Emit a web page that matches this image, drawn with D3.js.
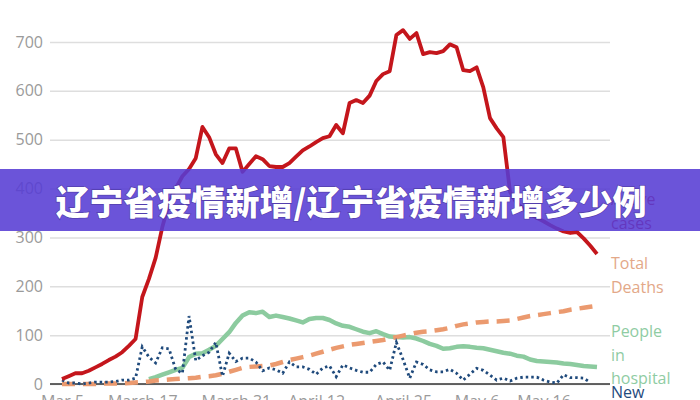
<!DOCTYPE html>
<html><head><meta charset="utf-8">
<script src="https://cdn.jsdelivr.net/npm/d3@7/dist/d3.min.js"></script>
<style>
html,body{margin:0;padding:0;background:#fff;}
svg{display:block;font-family:"Open Sans",sans-serif;}
</style></head>
<body><svg id="c" width="700" height="400"></svg>
<script>
const startDate = "2020-03-05";
const title = "辽宁省疫情新增/辽宁省疫情新增多少例";
const yTicks = [0,100,200,300,400,500,600,700,800];
const xTickDates = ["2020-03-05","2020-03-17","2020-03-31","2020-04-12","2020-04-25","2020-05-06","2020-05-16"];
const xTickLabels = ["Mar 5","March 17","March 31","April 12","April 25","May 6","May 16"];
const seriesNames = ["Active cases","Total Deaths","People in hospital","New cases"];

// Active cases, day 0..80
const activeCases = [10,16,22,22,27,34,41,49,56,65,78,92,178,215,258,321,370,400,425,440,
  462,526,505,470,452,482,482,434,450,466,460,446,444,444,452,465,478,486,495,503,
  507,530,513,575,581,575,590,620,634,640,714,724,706,718,675,679,677,681,695,689,
  642,640,648,607,544,523,505,393,370,358,348,340,333,325,318,312,309,311,298,283,266];
// Total deaths, day 0..80
const totalDeaths = [0,0,0,0,0,0,1,1,1,1,2,3,4,5,7,8,9,10,11,12,
  13,15,16,18,21,25,29,33,35,36,37,38,41,45,49,52,55,58,62,66,
  70,74,77,80,82,84,86,88,90,93,96,99,102,105,107,108,110,112,115,119,
  122,124,126,127,128,128,129,130,133,136,139,141,143,145,147,149,152,154,156,158,160];
// People in hospital, day 13..80
const hospitalStart = 13;
const inHospital = [10,14,19,24,29,33,55,62,63,70,78,92,106,125,140,147,145,148,137,140,
  137,134,130,126,133,135,135,131,124,119,117,112,107,104,108,102,97,96,95,96,
  93,88,82,78,72,73,76,77,76,74,73,70,67,64,62,58,56,50,47,46,
  45,44,42,41,39,37,36,35];
// New cases, day 0..79
const newCases = [8,2,2,0,2,4,4,4,5,8,8,12,76,55,43,74,72,30,22,139,
  48,58,65,85,16,63,46,53,53,45,27,33,29,22,45,35,35,30,20,33,
  37,15,39,33,28,24,24,40,45,28,85,50,12,45,40,29,25,25,30,22,
  8,20,32,28,18,8,12,6,12,14,14,14,8,4,2,19,13,13,12,3];

const svg = d3.select("#c");
const parse = d3.utcParse("%Y-%m-%d");
const d0 = parse(startDate);
const dayDate = i => d3.utcDay.offset(d0, i);

const x = d3.scaleUtc().domain([d0, dayDate(80)]).range([62, 597]);
const y = d3.scaleLinear().domain([0, 800]).range([384, -7]);

// y axis + grid
const ya = svg.append("g").attr("transform","translate(50,0)")
  .call(d3.axisLeft(y).tickValues(yTicks).tickSize(-560).tickPadding(7).tickFormat(d3.format("d")));
ya.select(".domain").remove();
ya.selectAll(".tick line").attr("stroke","#dedede").attr("stroke-width",1.5);
ya.selectAll(".tick text").attr("fill","#9a9a9a").style("font-size","16px").style("font-family","Open Sans");

// x axis labels
const xa = svg.append("g").attr("transform","translate(0,384)")
  .call(d3.axisBottom(x).tickValues(xTickDates.map(parse)).tickSize(0).tickPadding(12)
    .tickFormat((d,i)=>xTickLabels[i]));
xa.select(".domain").remove();
xa.selectAll(".tick text").attr("fill","#9a9a9a").style("font-size","16px").style("font-family","Open Sans");

// baseline
svg.append("line").attr("x1",50).attr("x2",610).attr("y1",y(0)).attr("y2",y(0))
  .attr("stroke","#333").attr("stroke-width",1.5);

const line = d3.line().x(d=>x(d[0])).y(d=>y(d[1]));
const pts = (arr, off) => arr.map((v,i)=>[dayDate(i+off), v]);

svg.append("path").datum(pts(inHospital, hospitalStart)).attr("d", line)
  .attr("fill","none").attr("stroke","#8ccb9f").attr("stroke-width",4.5).attr("stroke-linejoin","round");
svg.append("path").datum(pts(totalDeaths, 0)).attr("d", line)
  .attr("fill","none").attr("stroke","#eb9a6f").attr("stroke-width",4.5).attr("stroke-dasharray","13 8");
svg.append("path").datum(pts(newCases, 0)).attr("d", line)
  .attr("fill","none").attr("stroke","#1f4a7c").attr("stroke-width",2.8).attr("stroke-dasharray","2.5 3");
svg.append("path").datum(pts(activeCases, 0)).attr("d", line)
  .attr("fill","none").attr("stroke","#c4161c").attr("stroke-width",3.8).attr("stroke-linejoin","round");

// labels
const labels = [
  {lines:["Active","cases"], color:"#c4161c", y0:205},
  {lines:["Total","Deaths"], color:"#e3a888", y0:269},
  {lines:["People","in","hospital"], color:"#8fcca3", y0:337},
  {lines:["New","cases"], color:"#1f4a7c", y0:398}
];
labels.forEach(l=>{
  const t = svg.append("text").attr("x",611).attr("y",l.y0).attr("fill",l.color)
    .style("font-size","16px").style("font-family","Open Sans");
  l.lines.forEach((s,i)=>t.append("tspan").attr("x",611).attr("dy", i===0?0:23.5).text(s));
});

// banner
svg.append("rect").attr("x",0).attr("y",169).attr("width",700).attr("height",62)
  .attr("fill","rgba(86,60,212,0.88)");
svg.append("text").attr("x",351).attr("y",200).attr("text-anchor","middle")
  .attr("dominant-baseline","central").attr("fill","#fff")
  .style("font-family","'Noto Sans CJK SC'").style("font-weight","900").style("font-size","34px")
  .style("paint-order","stroke").attr("stroke","rgba(40,20,90,0.35)").attr("stroke-width",1.5)
  .text(title);
</script></body></html>
